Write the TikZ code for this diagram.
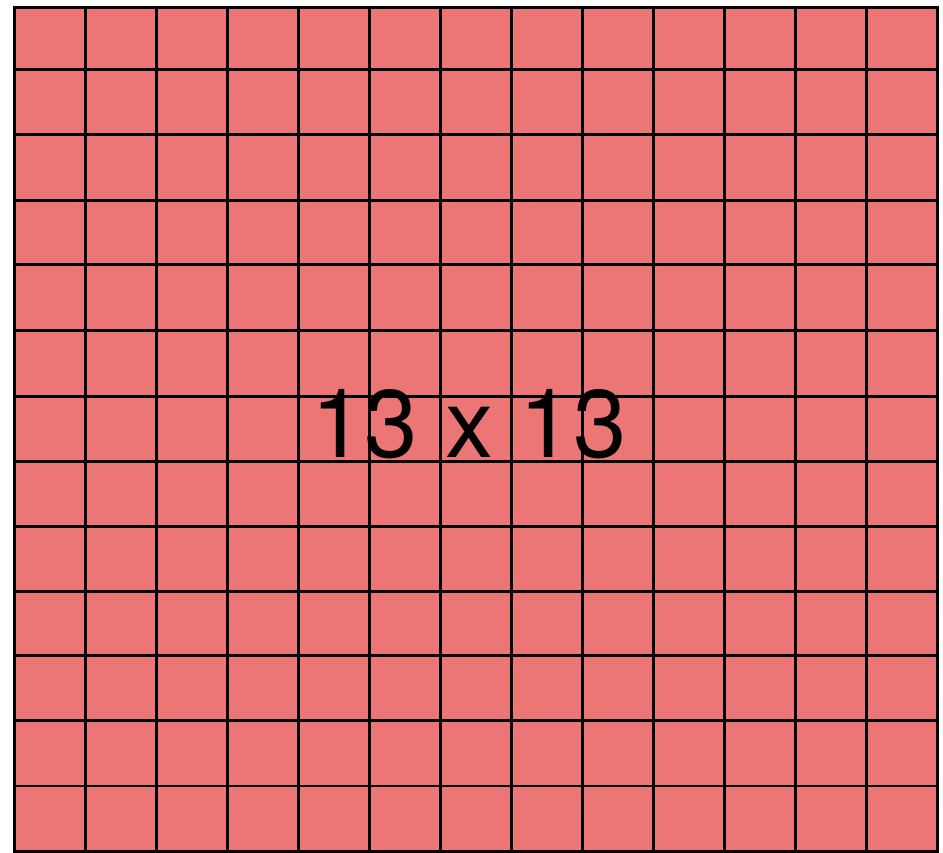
\documentclass[tikz,border=0pt]{standalone}
\usepackage{fontspec}
\setmainfont{TeX Gyre Heros}
\definecolor{cellred}{RGB}{236,118,118}
\tikzset{gridline/.style={line width=2.6pt,black}}
\begin{document}
\begin{tikzpicture}[x=1pt,y=-1pt]
\useasboundingbox (0,0) rectangle (943,853);
\fill[cellred] (14.5,7.5) rectangle (937.5,851.5);
\foreach \x in {14.5,85.5,156.5,227.5,298.5,369.5,440.5,511.5,582.5,653.5,724.5,795.5,866.5,937.5}
  \draw[gridline] (\x,7.5) -- (\x,851.5);
\foreach \y in {7.5,69.5,134.5,200.5,264.5,330.5,396.5,461.5,526.5,591.5,655.5,720.5,786,851.5}
  \draw[gridline] (13.2,\y) -- (938.8,\y);
\node[anchor=base,inner sep=0pt,font=\fontsize{96}{104}\selectfont] (label) at (469,457) {13 x 13};
\end{tikzpicture}
\end{document}
